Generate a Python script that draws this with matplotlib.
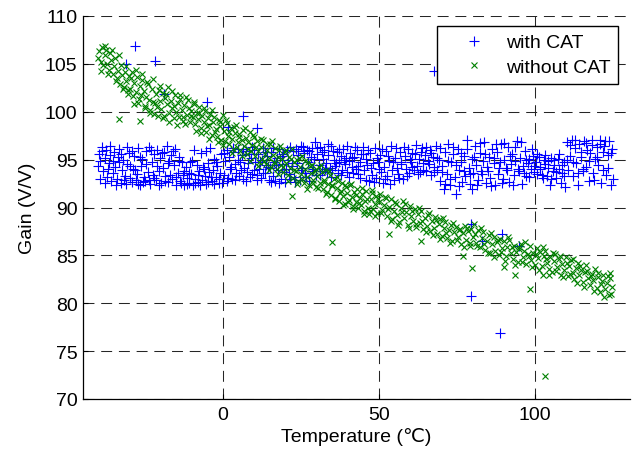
import matplotlib
matplotlib.use("Agg")
import matplotlib.pyplot as plt

# ---------------- data ----------------
with_cat_x = [
    -39.6, -39.1, -38.7, -38.3, -37.8, -37.4, -37.0, -36.5, -36.1, -35.7, -35.2, -34.8, -34.4, -33.9, -33.5, -33.1, -32.6,
    -32.2, -31.8, -31.3, -30.9, -30.5, -30.0, -29.6, -29.1, -28.7, -28.3, -27.8, -27.4, -27.0, -26.5, -26.1, -25.7, -25.2,
    -24.8, -24.4, -23.9, -23.5, -23.1, -22.6, -22.2, -21.8, -21.3, -20.9, -20.5, -20.0, -19.6, -19.1, -18.7, -18.3, -17.8,
    -17.4, -17.0, -16.5, -16.1, -15.7, -15.2, -14.8, -14.4, -13.9, -13.5, -13.1, -12.6,
    -12.2, -11.8, -11.3, -10.9, -10.5, -10.0, -9.6, -9.1, -8.7, -8.3, -7.8, -7.4, -7.0, -6.5, -6.1, -5.7, -5.2, -4.8, -4.4,
    -3.9, -3.5, -3.1, -2.6, -2.2, -1.8, -1.3, -0.9, -0.5,
    0.4, 0.9, 1.3, 1.7, 2.2, 2.6, 3.0, 3.5, 3.9, 4.3, 4.8, 5.2, 5.6, 6.1, 6.5, 6.9, 7.4, 7.8, 8.2, 8.7, 9.1, 9.5, 10.0,
    10.4, 10.9, 11.3, 11.7, 12.2, 12.6, 13.0, 13.5, 13.9, 14.3, 14.8,
    15.2, 15.6, 16.1, 16.5, 16.9, 17.4, 17.8, 18.2, 18.7, 19.1, 19.5, 20.0, 20.4, 20.9, 21.3, 21.7, 22.2, 22.6, 23.0, 23.5,
    23.9, 24.3, 24.8, 25.2, 25.6, 26.1, 26.5, 26.9, 27.4, 27.8, 28.2, 28.7, 29.1, 29.5, 30.0,
    30.4, 30.9, 31.3, 31.7, 32.2, 32.6, 33.0, 33.5, 33.9, 34.3, 34.8, 35.2, 35.6, 36.1, 36.5, 36.9, 37.4, 37.8, 38.2, 38.7,
    39.1, 39.5, 40.0, 40.4, 40.9, 41.3, 41.7, 42.2, 42.6, 43.0, 43.5, 43.9, 44.3, 44.9,
    45.3, 45.8, 46.3, 46.8, 47.3, 47.8, 48.3, 48.8, 49.3, 49.8, 50.3, 50.8, 51.3, 51.8, 52.3, 52.8, 53.3, 53.8, 54.3, 54.8,
    55.3, 55.8, 56.3, 56.8, 57.3, 57.8,
    58.3, 58.8, 59.3, 59.8, 60.3, 60.8, 61.3, 61.8, 62.3, 62.8, 63.3, 63.8, 64.3, 64.8, 65.3, 65.8, 66.3, 66.8, 67.3, 67.8,
    68.3, 68.8,
    69.3, 69.8, 70.3, 70.8, 71.3, 71.8, 72.3, 72.8, 73.3, 73.8, 74.3, 74.7, 75.3, 75.8, 76.3, 76.8, 77.3, 77.8, 78.3, 78.8,
    79.3, 79.8,
    80.3, 80.8, 81.3, 81.8, 82.3, 82.8, 83.3, 83.8, 84.3, 84.8, 85.3, 85.8, 86.3, 86.8, 87.3, 87.8, 88.3, 88.8, 89.3, 89.8,
    90.3, 90.8, 91.3, 91.8, 92.3, 92.8, 93.3, 93.8, 94.3, 94.8, 95.3, 95.8, 96.3, 96.8, 97.3, 97.8,
    98.3, 98.8, 99.3, 99.8, 100.3, 100.8, 101.3, 101.8, 102.3, 102.8, 103.3, 103.8, 104.3, 104.8, 105.3, 105.8, 106.3,
    106.8, 107.3, 107.8, 108.3, 108.8, 109.3, 109.8,
    110.3, 110.8, 111.3, 111.8, 112.3, 112.8, 113.3, 113.8, 114.3, 114.8, 115.3, 115.8, 116.3, 116.8, 117.3, 117.8, 118.3,
    118.8, 119.3, 119.8, 120.3, 120.8, 121.3, 121.8, 122.3, 122.8, 123.3, 123.8, 124.3, 124.8,
    -28.2, -21.5, -30.8, -18.9, -5.1, 6.7, 10.9, 1.6, 67.6, 79.5, 88.8, 89.4, 83.0, 79.5, 94.9,
]
with_cat_y = [
    95.6, 94.9, 95.9, 93.8, 95.2, 96.0, 93.2, 94.6, 95.5, 92.8, 93.6, 95.8, 94.2, 93.0, 95.3, 96.1, 92.6,
    93.9, 95.0, 93.3, 92.5, 94.5, 95.7, 93.1, 92.7, 94.0, 95.4, 92.9, 93.5, 96.2, 92.4, 94.3, 95.1, 93.2,
    92.8, 95.9, 93.7, 96.3, 92.5, 94.8, 93.4, 95.6, 92.9, 96.0, 93.8, 95.2, 92.6, 94.1, 95.8, 93.3, 96.4,
    92.7, 94.9, 95.5, 93.0, 94.4, 96.1, 92.4, 93.6, 95.3, 92.8, 94.7, 93.4,
    92.3, 94.2, 93.1, 92.6, 94.8, 93.5, 92.4, 96.0, 93.0, 94.4, 92.7, 93.8, 95.7, 92.9, 94.0, 93.3, 92.5, 94.6, 93.7,
    96.2, 92.8, 93.9, 95.1, 93.2, 94.3, 92.6, 93.6, 95.6,
    93.4, 94.9, 96.0, 93.1, 95.3, 94.2, 93.0, 95.8, 94.5, 93.6, 96.1, 93.3, 94.8, 95.5, 93.0, 94.1, 95.9, 93.7, 94.6, 93.2, 95.2, 96.3, 93.9,
    94.7, 93.4, 95.6, 94.0, 93.1, 95.0, 96.2, 93.6, 94.4, 95.4, 92.9,
    94.1, 95.8, 93.3, 94.7, 92.8, 95.2, 93.9, 96.1, 93.0, 94.5, 95.6, 92.7, 94.0, 95.0, 93.5, 96.3, 94.3, 95.9, 93.2, 96.1,
    94.6, 95.5, 92.9, 96.4, 94.1, 95.7, 93.6, 96.0, 94.8, 92.8, 95.3, 96.2, 94.0, 96.8, 93.4,
    95.6, 94.4, 96.3, 93.8, 95.1, 96.0, 94.6, 93.7, 95.5, 94.1, 96.4, 93.9, 95.0, 94.3, 95.8, 93.6, 94.8, 95.4, 93.9, 96.1,
    94.5, 95.2, 93.7, 94.9, 95.7, 94.2, 93.6, 95.3, 94.0, 96.0, 93.5, 94.7, 95.6, 96.3,
    93.9, 95.1, 94.4, 92.8, 95.7, 93.4, 94.6, 96.2, 93.1, 94.8, 95.5, 93.7, 92.6, 94.2, 95.9, 93.3, 94.9, 96.4, 93.9, 92.9,
    95.2, 94.1, 93.5, 95.8, 94.5, 93.0,
    95.4, 94.0, 96.1, 93.6, 94.8, 95.7, 93.9, 96.5, 94.3, 95.1, 93.7, 96.2, 94.6, 95.5, 93.8, 94.9, 96.0, 93.4, 95.3, 94.2,
    96.4, 93.9,
    95.0, 92.8, 94.3, 91.9, 95.8, 93.5, 96.6, 92.4, 94.7, 95.6, 93.2, 91.4, 96.1, 93.9, 94.8, 92.7, 95.4, 93.3, 97.0, 94.1,
    92.5, 95.1,
    93.6, 96.4, 94.4, 92.9, 95.7, 93.8, 94.9, 96.8, 92.6, 94.2, 95.3, 93.1, 96.1, 94.6, 92.3, 95.8, 93.5, 94.7, 96.6, 93.0,
    95.0, 94.1, 96.3, 92.7, 94.5, 95.6, 93.4, 94.9, 96.9, 93.8, 95.2, 92.5, 94.3, 95.9, 93.3, 94.6,
    95.1, 94.0, 95.4, 93.7, 94.8, 93.5, 95.3, 94.2, 93.4, 95.0, 94.5, 93.3, 94.9, 92.3, 95.2, 93.8, 94.4,
    93.1, 95.1, 94.0, 92.6, 93.6, 94.7, 92.1,
    96.8, 93.9, 95.4, 97.1, 93.3, 96.2, 94.6, 92.4, 96.6, 95.3, 93.8, 96.9, 94.2, 96.0, 92.8, 95.7, 96.5,
    93.6, 95.1, 96.3, 94.4, 97.0, 92.6, 95.8, 96.4, 93.4, 95.5, 96.9, 92.3, 96.1,
    106.9, 105.3, 105.0, 101.9, 101.0, 99.6, 98.3, 98.4, 104.3, 80.8, 76.9, 87.2, 86.5, 88.3, 86.0,
]

# second sweep of the "with CAT" cloud
with_cat_x2 = [
    -39.9, -39.3, -38.5, -37.6, -36.8, -35.9, -35.0, -34.1, -33.3, -32.4, -31.5, -30.7, -29.8, -28.9, -28.0, -27.2, -26.3,
    -25.4, -24.6, -23.7, -22.8, -21.9, -21.1, -20.2, -19.3, -18.5, -17.6, -16.7, -15.9, -15.0, -14.1, -13.3,
    -12.4, -11.5, -10.7, -9.8, -8.9, -8.0, -7.2, -6.3, -5.4, -4.6, -3.7, -2.8, -2.0, -1.1, -0.2,
    0.6, 1.5, 2.4, 3.2, 4.1, 5.0, 5.9, 6.7, 7.6, 8.5, 9.3, 10.2, 11.1, 11.9, 12.8, 13.7, 14.6,
    15.4, 16.3, 17.2, 18.0, 18.9, 19.8, 20.6, 21.5, 22.4, 23.3, 24.1, 25.0, 25.9, 26.7, 27.6, 28.5, 29.3,
    30.2, 31.1, 32.0, 32.8, 33.7, 34.6, 35.4, 36.3, 37.2, 38.0, 38.9, 39.8, 40.6, 41.5, 42.4, 43.3, 44.1,
    45.0, 45.9, 46.7, 47.6, 48.5, 49.4, 50.2, 51.1, 52.0, 52.9, 53.7, 54.6, 55.5, 56.4, 57.2,
    58.1, 59.0, 59.9, 60.7, 61.6, 62.5, 63.4, 64.2, 65.1, 66.0, 66.9, 67.7, 68.6,
    69.5, 70.4, 71.2, 72.1, 73.0, 73.9, 74.8, 75.6, 76.5, 77.4, 78.2, 79.1, 79.9,
    80.6, 81.5, 82.4, 83.2, 84.1, 85.0, 85.9, 86.8, 87.6, 88.5, 89.4, 90.3, 91.1, 92.0, 92.9, 93.8, 94.6, 95.5, 96.4, 97.3,
    98.1, 99.0, 99.9, 100.8, 101.6, 102.5, 103.4, 104.3, 105.1, 106.0, 106.9, 107.8, 108.6, 109.5,
    110.4, 111.2, 112.1, 113.0, 113.9, 114.7, 115.6, 116.5, 117.4, 118.2, 119.1, 120.0, 120.9, 121.7, 122.6, 123.5, 124.4,
    124.9,
]
with_cat_y2 = [
    94.3, 93.0, 96.3, 92.6, 94.0, 96.4, 94.9, 92.4, 94.7, 95.6, 92.9, 96.3, 94.3, 95.9, 93.9, 92.5, 95.3,
    92.7, 94.5, 92.9, 96.0, 93.1, 94.3, 92.4, 95.7, 92.8, 94.6, 93.4, 95.9, 93.2, 94.9, 92.6,
    93.8, 92.5, 93.6, 94.9, 92.6, 93.4, 92.4, 94.2, 95.9, 92.7, 93.2, 92.5, 94.8, 93.0, 92.6,
    95.7, 92.8, 94.0, 96.2, 92.9, 95.0, 93.9, 96.1, 92.8, 95.6, 93.5, 96.0, 92.9, 94.8, 93.6, 95.8, 94.2,
    92.7, 96.2, 94.4, 92.6, 95.4, 93.7, 96.0, 93.0, 94.6, 92.7, 95.9, 93.9, 96.3, 93.2, 95.9, 93.8, 95.1,
    96.2, 93.4, 95.8, 94.0, 96.6, 93.2, 95.9, 94.6, 96.1, 93.4, 95.0, 96.4, 93.2, 95.2, 96.3, 94.3, 93.1,
    95.6, 92.9, 96.0, 94.1, 92.7, 95.2, 94.0, 96.1, 93.0, 95.4, 92.5, 94.8, 96.2, 93.1, 94.7,
    96.3, 93.3, 95.1, 94.2, 95.6, 93.5, 95.8, 93.9, 96.3, 94.5, 95.7, 93.7, 95.2,
    96.2, 93.7, 92.5, 94.9, 93.0, 96.3, 94.4, 92.2, 95.7, 93.8, 96.1, 93.5, 91.9,
    95.3, 92.4, 96.7, 93.5, 95.6, 93.8, 92.2, 95.2, 96.6, 94.1, 92.6, 96.7, 93.9, 95.4, 92.3, 96.3, 94.0, 96.8, 93.6, 95.0,
    93.2, 96.1, 94.3, 95.6, 94.0, 93.1, 95.5, 94.1, 93.0, 95.0, 93.7, 95.6, 94.4, 93.3,
    95.0, 96.5, 94.7, 97.0, 93.6, 95.8, 94.0, 96.7, 94.9, 97.1, 92.9, 95.3, 96.6, 93.9, 96.9, 94.1, 95.7,
    93.0,
]

without_cat_x = [
    -39.5, -39.0, -38.6, -38.2, -37.8, -37.3, -36.9, -36.5, -36.0, -35.6, -35.2, -34.8, -34.3, -33.9, -33.5, -33.0, -32.6,
    -32.2, -31.7, -31.3, -30.9, -30.4, -30.0,
    -29.6, -29.1, -28.7, -28.3, -27.8, -27.4, -27.0, -26.5, -26.1, -25.7, -25.2, -24.8, -24.4, -23.9, -23.5, -23.1, -22.6,
    -22.2, -21.8, -21.3, -20.9, -20.5, -20.0,
    -19.6, -19.1, -18.7, -18.3, -17.8, -17.4, -17.0, -16.5, -16.1, -15.7, -15.2, -14.8, -14.4, -13.9, -13.5, -13.1, -12.6,
    -12.2, -11.8, -11.3, -10.9, -10.5, -10.0,
    -9.6, -9.1, -8.7, -8.3, -7.8, -7.4, -7.0, -6.5, -6.1, -5.7, -5.2, -4.8, -4.4, -3.9, -3.5, -3.1, -2.6, -2.2, -1.8, -1.3,
    -0.9, -0.5, 0.0,
    0.4, 0.9, 1.3, 1.7, 2.2, 2.6, 3.0, 3.5, 3.9, 4.3, 4.8, 5.2, 5.6, 6.1, 6.5, 6.9, 7.4, 7.8, 8.2, 8.7, 9.1, 9.5, 10.0,
    10.4, 10.9, 11.3, 11.7, 12.2, 12.6, 13.0, 13.5, 13.9, 14.3, 14.8, 15.2, 15.6, 16.1, 16.5, 16.9, 17.4, 17.8, 18.2, 18.7,
    19.1, 19.5, 20.0,
    20.4, 20.9, 21.3, 21.7, 22.2, 22.6, 23.0, 23.5, 23.9, 24.3, 24.8, 25.2, 25.6, 26.1, 26.5, 26.9, 27.4, 27.8, 28.2, 28.7,
    29.1, 29.5, 30.0,
    30.4, 30.9, 31.3, 31.7, 32.2, 32.6, 33.0, 33.5, 33.9, 34.3, 34.8, 35.2, 35.6, 36.1, 36.5, 36.9, 37.4, 37.8, 38.2, 38.7,
    39.1, 39.5, 40.0,
    40.4, 40.9, 41.3, 41.7, 42.2, 42.6, 43.0, 43.5, 43.9, 44.3, 44.8, 45.2, 45.6, 46.1, 46.5, 46.9, 47.4, 47.8, 48.2, 48.7,
    49.1, 49.5, 50.0,
    50.5, 51.1, 51.6, 52.2, 52.7, 53.3, 53.8, 54.4, 54.9, 55.5, 56.0, 56.6, 57.1, 57.7, 58.2, 58.8, 59.3, 59.9, 60.4, 61.0,
    61.5, 62.1, 62.6,
    63.2, 63.7, 64.3, 64.8, 65.4, 65.9, 66.5, 67.0, 67.6, 68.1, 68.7, 69.2, 69.8, 70.3, 70.9, 71.4, 72.0, 72.5, 73.1, 73.6,
    74.2, 74.7, 75.3, 75.8, 76.4, 76.9, 77.5, 78.0, 78.6, 79.1, 79.7, 80.2,
    80.8, 81.3, 81.9, 82.4, 83.0, 83.5, 84.1, 84.6, 85.2, 85.7, 86.3, 86.8, 87.4, 87.9, 88.5, 89.0, 89.6, 90.1, 90.7, 91.2,
    91.8, 92.3, 92.9, 93.4, 94.0, 94.5, 95.1, 95.6, 96.2, 96.7, 97.3, 97.8, 98.4, 98.9, 99.5, 100.0,
    100.6, 101.1, 101.7, 102.2, 102.8, 103.3, 103.9, 104.4, 105.0, 105.5, 106.1, 106.6, 107.2, 107.7, 108.3, 108.8, 109.4,
    109.9, 110.5, 111.0, 111.6, 112.1, 112.7, 113.2, 113.8, 114.3, 114.9, 115.4, 116.0, 116.5, 117.1, 117.6, 118.2, 118.7,
    119.3, 119.8, 120.4, 120.9, 121.5, 122.0, 122.6, 123.1, 123.7, 124.2, 124.8,
    -33.3, -26.3, 22.4, 35.0, 53.2, 63.5, 79.8, 90.0, 93.6, 98.4, 103.2, 76.9, 102.6,
]
without_cat_y = [
    106.3, 105.2, 106.8, 104.9, 105.9, 106.5, 105.0, 104.4, 106.1, 105.4, 103.9, 104.8, 105.6, 103.5, 104.3, 102.9, 104.9,
    103.8, 102.6, 104.1, 103.2, 101.9, 103.7,
    102.4, 104.2, 101.6, 103.0, 102.1, 103.6, 100.9, 102.7, 101.8, 103.3, 102.2, 100.6, 101.5, 102.9, 101.2, 100.2, 102.4,
    101.0, 99.8, 101.9, 100.5, 102.3, 101.1,
    100.3, 102.0, 99.6, 101.4, 100.8, 102.6, 99.9, 101.1, 100.4, 99.3, 101.7, 100.0, 100.9, 99.5, 101.3, 100.2, 99.0,
    100.7, 101.5, 99.7, 100.4, 98.9, 100.1,
    99.4, 100.8, 98.7, 99.9, 99.2, 100.5, 98.3, 99.6, 98.9, 100.1, 97.9, 99.3, 98.6, 99.8, 97.6, 98.9, 99.5, 98.2, 97.4, 99.1,
    98.5, 97.1, 99.7,
    98.0, 96.9, 98.8, 97.5, 96.6, 98.3, 97.2, 96.1, 97.8, 98.6, 96.8, 97.4, 95.9, 97.0, 98.1, 96.4, 97.3, 95.6, 96.8, 97.9,
    95.9, 96.5, 97.4,
    95.4, 96.9, 95.9, 94.8, 96.3, 95.1, 97.0, 95.6, 94.5, 96.0, 95.2, 96.6, 94.2, 95.5, 94.8, 96.2, 94.0, 95.3, 96.0, 94.4,
    95.1, 93.7, 95.8,
    94.6, 93.4, 95.3, 94.1, 96.1, 93.1, 94.8, 93.8, 95.0, 92.8, 94.2, 93.5, 95.4, 92.6, 94.0, 93.2, 94.7, 92.4, 93.6, 94.4,
    92.9, 93.8, 92.1,
    93.3, 94.2, 92.6, 93.7, 91.9, 92.9, 93.9, 91.6, 92.5, 93.4, 91.3, 92.2, 93.0, 91.0, 92.0, 92.8, 90.7, 91.7, 92.6, 91.2,
    90.4, 92.1, 91.5,
    90.8, 92.3, 91.1, 90.2, 91.6, 90.6, 91.9, 89.9, 91.0, 90.3, 91.4, 89.6, 90.7, 91.7, 90.0, 89.3, 90.9, 91.5, 89.8, 90.4,
    91.2, 89.4, 90.6,
    91.4, 89.7, 90.3, 91.0, 89.1, 90.1, 90.9, 88.8, 89.6, 90.4, 89.2, 88.5, 90.0, 90.7, 88.9, 89.5, 88.2, 90.2, 89.1, 88.6,
    89.8, 88.0, 89.3,
    88.4, 89.6, 87.8, 88.9, 88.1, 89.2, 87.5, 88.6, 87.9, 89.0, 87.2, 88.3, 88.8, 87.0, 87.9, 88.5, 86.8, 87.6, 88.2, 86.5,
    87.4, 88.0, 86.9, 87.7, 86.2, 87.3, 88.1, 86.6, 87.5, 86.0, 87.8, 86.9,
    87.2, 86.3, 87.6, 85.9, 86.8, 87.4, 85.6, 86.5, 87.1, 85.3, 86.2, 86.9, 85.5, 86.4, 85.0, 86.7, 85.8, 86.5, 84.9, 85.9,
    86.6, 85.2, 84.6, 86.0, 85.4, 84.3, 85.7, 86.2, 84.8, 85.5, 84.1, 85.1, 86.0, 84.5, 85.3, 84.0,
    85.8, 84.7, 85.4, 83.9, 84.9, 85.5, 84.2, 83.6, 84.8, 83.3, 84.4, 85.1, 83.8, 84.6, 83.0, 84.1, 83.5,
    84.8, 82.8, 83.9, 84.5, 83.2, 82.5, 83.7, 84.2, 82.9, 83.5, 82.2, 83.3, 84.0, 82.6, 81.9, 83.1, 82.4,
    83.6, 81.6, 82.7, 81.2, 82.3, 83.0, 81.5, 82.1, 80.9, 82.6, 81.7,
    99.2, 99.0, 91.2, 86.4, 87.2, 86.5, 83.7, 83.8, 83.0, 81.5, 72.4, 84.9, 83.0,
]

# second sweep of the "without CAT" cloud
without_cat_x2 = [
    -39.8, -38.9, -37.6, -36.7, -35.4, -34.1, -33.2, -31.9, -31.0, -30.2,
    -29.3, -28.5, -27.6, -26.8, -25.9, -25.0, -24.1, -23.3, -22.4, -21.5, -20.7,
    -19.9, -19.0, -18.1, -17.2, -16.3, -15.4, -14.6, -13.7, -12.8, -11.9, -11.0, -10.2,
    -9.3, -8.5, -7.6, -6.8, -5.9, -5.0, -4.2, -3.3, -2.4, -1.5, -0.7,
    0.2, 1.1, 2.0, 2.9, 3.7, 4.6, 5.4, 6.3, 7.2, 8.0, 8.9, 9.7,
    10.6, 11.5, 12.4, 13.2, 14.1, 15.0, 15.8, 16.7, 17.6, 18.5, 19.3,
    20.2, 21.1, 22.0, 22.8, 23.7, 24.6, 25.4, 26.3, 27.2, 28.0, 28.9, 29.8,
    30.6, 31.5, 32.4, 33.2, 34.1, 35.0, 35.9, 36.7, 37.6, 38.5, 39.3,
    40.2, 41.1, 41.9, 42.8, 43.7, 44.6, 45.4, 46.3, 47.2, 48.0, 48.9, 49.8,
    50.8, 51.9, 53.0, 54.1, 55.2, 56.3, 57.4, 58.5, 59.6, 60.7, 61.8, 62.9,
    64.0, 65.1, 66.2, 67.3, 68.4, 69.5, 70.6, 71.7, 72.8, 73.9, 75.0, 76.1, 77.2, 78.3, 79.4,
    80.5, 81.6, 82.7, 83.8, 84.9, 86.0, 87.1, 88.2, 89.3, 90.4, 91.5, 92.6, 93.7, 94.8, 95.9, 97.0, 98.1, 99.2,
    100.3, 101.4, 102.5, 103.6, 104.7, 105.8, 106.9, 108.0, 109.1, 110.2, 111.3, 112.4, 113.5, 114.6, 115.7, 116.8,
    117.9, 119.0, 120.1, 121.2, 122.3, 123.4, 124.5, 124.0,
]
without_cat_y2 = [
    105.6, 104.3, 106.9, 103.9, 106.4, 103.2, 105.9, 102.4, 104.8, 102.3,
    103.5, 100.8, 104.4, 101.3, 103.9, 100.4, 103.1, 99.9, 103.4, 100.9, 99.6,
    102.7, 99.3, 101.9, 98.9, 102.2, 100.6, 98.6, 101.8, 99.4, 98.7, 101.2, 99.6,
    101.0, 98.0, 99.9, 97.8, 100.4, 98.5, 97.2, 100.2, 97.9, 96.8, 98.9,
    96.5, 99.1, 97.9, 95.7, 98.4, 96.3, 97.7, 95.4, 98.3, 96.1, 94.9, 97.6,
    96.3, 94.3, 97.2, 94.9, 96.6, 93.9, 96.9, 94.6, 93.5, 96.4, 94.2,
    96.0, 92.8, 95.1, 93.9, 92.5, 95.2, 93.0, 94.9, 91.9, 94.3, 92.6, 94.0,
    92.0, 94.4, 92.7, 91.4, 93.8, 92.4, 90.9, 93.2, 91.5, 90.3, 92.4,
    90.6, 92.5, 89.8, 91.3, 90.5, 92.0, 89.3, 90.9, 89.6, 91.8, 89.1, 90.9,
    89.4, 91.1, 89.8, 88.6, 90.6, 88.2, 89.5, 90.4, 87.9, 89.6, 88.3, 90.0,
    88.6, 87.4, 89.4, 87.1, 88.7, 86.7, 88.9, 87.3, 86.3, 88.4, 86.6, 87.8, 85.9, 87.9, 86.3,
    88.3, 86.0, 87.9, 86.2, 85.2, 87.3, 84.8, 86.6, 85.4, 84.4, 86.9, 85.9, 84.0, 85.9, 84.3, 86.4, 84.9, 83.8,
    85.1, 83.5, 85.9, 84.6, 82.9, 85.2, 83.4, 84.9, 82.7, 84.2, 83.1, 84.6, 82.1, 83.9, 81.7, 83.4,
    82.8, 81.3, 83.2, 82.0, 80.7, 82.8, 81.0, 83.2,
]

series_labels = ["with CAT", "without CAT"]
x_ticks = [0, 50, 100]
y_ticks = [70, 75, 80, 85, 90, 95, 100, 105, 110]
x_label = "Temperature (\u2103)"
y_label = "Gain (V/V)"

blue_x = with_cat_x + with_cat_x2
blue_y = with_cat_y + with_cat_y2
green_x = without_cat_x + without_cat_x2
green_y = without_cat_y + without_cat_y2

# ---------------- figure ----------------
plt.rcParams['font.family'] = ['Liberation Sans', 'DejaVu Sans']
FS = 14

fig = plt.figure(figsize=(6.36, 4.52), dpi=100)
ax = fig.add_axes([83 / 636, 52 / 452, 547 / 636, 383 / 452])

ax.plot(blue_x, blue_y, linestyle='none', marker='+', markersize=7.8,
        markeredgewidth=0.8, color=(0, 0, 1), label=series_labels[0])
ax.plot(green_x, green_y, linestyle='none', marker='x', markersize=4.6,
        markeredgewidth=0.8, color=(0, 0.5, 0), label=series_labels[1])

ax.set_xlim(-44.7, 130.5)
ax.set_ylim(70, 110)
ax.set_xticks(x_ticks)
ax.set_yticks(y_ticks)

dash = (0, (10.5, 6.5))
ax.grid(True, color='0.15', linewidth=0.75, linestyle=dash)
ax.set_axisbelow(True)

for s in ['top', 'right']:
    ax.spines[s].set_visible(False)
for s in ['left', 'bottom']:
    ax.spines[s].set_linewidth(0.9)
    ax.spines[s].set_color('black')

ax.tick_params(direction='in', length=3.5, width=0.8, labelsize=FS, colors='black')
ax.tick_params(axis='x', pad=5)
ax.tick_params(axis='y', pad=4)

ax.set_xlabel(x_label, fontsize=FS, labelpad=3)
ax.set_ylabel(y_label, fontsize=FS, labelpad=6)

leg = ax.legend(loc='upper right', bbox_to_anchor=((618 - 83) / 547, (400 - 27) / 383),
                fontsize=FS, numpoints=1, handlelength=3.0, handletextpad=0.15,
                borderpad=0.4, labelspacing=0.35, borderaxespad=0.0,
                fancybox=False, framealpha=1.0, edgecolor='black')
leg.get_frame().set_linewidth(1.0)

fig.savefig("out.png", dpi=100)
